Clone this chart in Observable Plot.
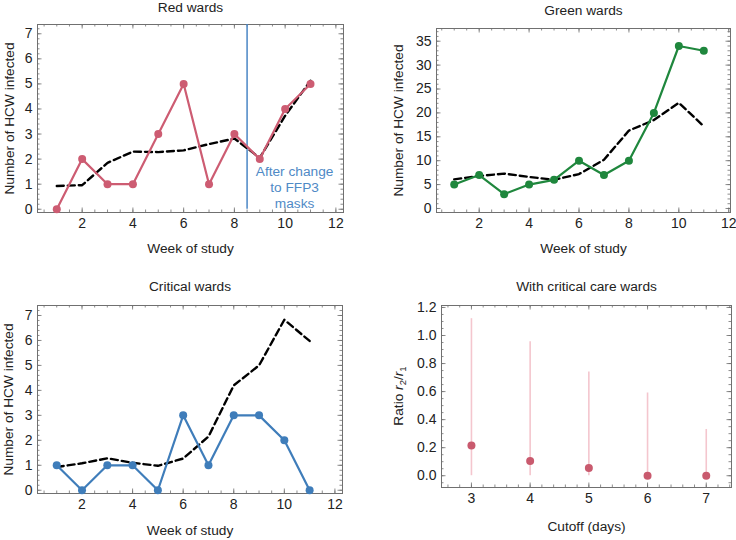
<!DOCTYPE html>
<html><head><meta charset="utf-8">
<script src="https://cdn.jsdelivr.net/npm/d3@7"></script>
<script src="https://cdn.jsdelivr.net/npm/@observablehq/plot@0.6"></script>
<style>
body{margin:0;background:#fff;}
#chart{position:relative;width:736px;height:540px;overflow:hidden;background:#fff;}
#chart svg{position:absolute;}
</style>
</head><body><div id="chart"></div>
<script>
// ---- data ----
const weeks = [1,2,3,4,5,6,7,8,9,10,11];
const redObserved = [0,2,1,1,3,5,1,3,2,4,5];
const redExpected = [0.93,0.96,1.85,2.3,2.28,2.35,2.6,2.82,2.05,3.73,5.13];
const greenObserved = [5,7,3,5,6,10,7,10,20,34,33];
const greenExpected = [6.1,6.8,7.3,6.6,6.0,7.2,10.2,16.3,18.5,22.1,17.2];
const criticalObserved = [1,0,1,1,0,3,1,3,3,2,0];
const criticalExpected = [0.93,1.08,1.28,1.1,0.98,1.27,2.15,4.2,5.0,6.83,5.98];
const maskChangeWeek = 8.5;
const maskNote = "After change\nto FFP3\nmasks";

const cutoffDays = [3,4,5,6,7];
const ratioEstimate = [0.215,0.105,0.055,0,0];
const ratioLower = [0,0,0,0,0];
const ratioUpper = [1.12,0.955,0.74,0.59,0.33];

const weekTicks = [2,4,6,8,10,12];
const countTicksSmall = [0,1,2,3,4,5,6,7];
const countTicksGreen = [0,5,10,15,20,25,30,35];
const cutoffTicks = [3,4,5,6,7];
const ratioTicks = [0,0.2,0.4,0.6,0.8,1.0,1.2];

const titles = ["Red wards","Green wards","Critical wards","With critical care wards"];
const weekLabel = "Week of study";
const countLabel = "Number of HCW infected";
const cutoffLabel = "Cutoff (days)";

// ---- styling ----
const FONT = "'Liberation Sans', Arial, Helvetica, sans-serif";
const FRAME = "#707070";
const RED = "#cd5c72";
const GREEN = "#1f873d";
const BLUE = "#3f7dba";
const PINK = "#f4c6ce";
const TXT = 13.7;   // label font size
const TICK = 14;    // tick label font size
const PW = 368, PH = 270;
const chart = document.getElementById("chart");

function minor(domain, step) {
  const a = Math.ceil(domain[0]/step - 1e-9), b = Math.floor(domain[1]/step + 1e-9);
  return d3.range(a, b+1).map(i => +(i*step).toFixed(6));
}

function framedPanel(o) {
  const [mt, mr, mb, ml] = o.margin;
  const xD = o.xDomain, yD = o.yDomain;
  const ky = (yD[1]-yD[0])/(PH-mt-mb);
  const kx = (xD[1]-xD[0])/(PW-ml-mr);
  const xMinor = minor(xD, o.xStep), yMinor = minor(yD, o.yStep);
  const ticks = [];
  for (const [vals, len] of [[xMinor, 2.5],[o.xMajor, 4.5]]) {
    ticks.push(Plot.ruleX(vals, {x: d=>d, y1: yD[0], y2: yD[0]+len*ky, stroke: FRAME, strokeWidth: 0.8}));
    ticks.push(Plot.ruleX(vals, {x: d=>d, y1: yD[1], y2: yD[1]-len*ky, stroke: FRAME, strokeWidth: 0.8}));
  }
  for (const [vals, len] of [[yMinor, 2.5],[o.yMajor, 4.5]]) {
    ticks.push(Plot.ruleY(vals, {y: d=>d, x1: xD[0], x2: xD[0]+len*kx, stroke: FRAME, strokeWidth: 0.8}));
    ticks.push(Plot.ruleY(vals, {y: d=>d, x1: xD[1], x2: xD[1]-len*kx, stroke: FRAME, strokeWidth: 0.8}));
  }
  const marks = [
    ...ticks,
    Plot.frame({stroke: FRAME, strokeWidth: 1}),
    Plot.axisX(o.xMajor, {tickSize: 0, tickPadding: 6, label: null, fill: "#222", fontSize: TICK}),
    Plot.axisY(o.yMajor, {tickSize: 0, tickPadding: 5, label: null, fill: "#222", fontSize: TICK, tickFormat: o.yFormat}),
    Plot.text([o.title], {text: d=>d, frameAnchor: "top", textAnchor: "middle", lineAnchor: "bottom", dy: o.titleDy, fill: "#222", fontSize: TXT}),
    Plot.text([o.xLabel], {text: d=>d, frameAnchor: "bottom", textAnchor: "middle", lineAnchor: "bottom", dy: o.xLabelDy, fill: "#222", fontSize: TXT}),
    o.yLabel ? Plot.text([o.yLabel], {text: d=>d, frameAnchor: "left", textAnchor: "middle", rotate: -90, lineAnchor: "middle", dx: o.yLabelDx, fill: "#222", fontSize: TXT}) : null,
    ...o.marks
  ];
  const svg = Plot.plot({
    width: PW, height: PH,
    marginTop: mt, marginRight: mr, marginBottom: mb, marginLeft: ml,
    x: {domain: xD}, y: {domain: yD},
    style: {fontFamily: FONT, fontSize: TXT + "px", color: "#222", background: "transparent", overflow: "visible"},
    marks
  });
  svg.style.left = o.left + "px";
  svg.style.top = o.top + "px";
  chart.append(svg);
  return svg;
}

function weekRows(obs, exp) {
  return weeks.map((w, i) => ({week: w, observed: obs[i], expected: exp[i]}));
}
function weekMarks(rows, color) {
  return [
    Plot.line(rows, {x: "week", y: "expected", stroke: "#000", strokeWidth: 2.4, strokeDasharray: "7,4"}),
    Plot.line(rows, {x: "week", y: "observed", stroke: color, strokeWidth: 2.2}),
    Plot.dot(rows, {x: "week", y: "observed", fill: color, r: 4})
  ];
}

// Red wards
const redRows = weekRows(redObserved, redExpected);
const redY = [-0.13, 7.37];
framedPanel({
  left: 0, top: 0, margin: [24, 25, 58, 37],
  xDomain: [0.24, 12.3], yDomain: redY, xStep: 0.5, yStep: 0.2,
  xMajor: weekTicks, yMajor: countTicksSmall,
  title: titles[0], titleDy: -13, xLabel: weekLabel, xLabelDy: 40.5,
  yLabel: countLabel, yLabelDx: -28,
  marks: [
    Plot.ruleX([maskChangeWeek], {x: d=>d, y1: 0, y2: redY[1], stroke: "#4a86c5", strokeWidth: 1.5}),
    ...weekMarks(redRows, RED),
    Plot.text([maskNote], {x: () => maskChangeWeek, text: d=>d, frameAnchor: "bottom", textAnchor: "middle", lineAnchor: "bottom", dx: 47.5, dy: -5, lineHeight: 1.15, fill: "#4f8ac6", fontSize: TXT})
  ]
});

// Green wards
framedPanel({
  left: 368, top: 0, margin: [28, 6, 58, 68],
  xDomain: [0.29, 12.07], yDomain: [-0.84, 37.66], xStep: 0.5, yStep: 1,
  xMajor: weekTicks, yMajor: countTicksGreen,
  title: titles[1], titleDy: -14, xLabel: weekLabel, xLabelDy: 40.5,
  yLabel: countLabel, yLabelDx: -38,
  marks: weekMarks(weekRows(greenObserved, greenExpected), GREEN)
});

// Critical wards
framedPanel({
  left: 0, top: 270, margin: [35, 26, 47, 37],
  xDomain: [0.24, 12.3], yDomain: [-0.13, 7.4], xStep: 0.5, yStep: 0.2,
  xMajor: weekTicks, yMajor: countTicksSmall,
  title: titles[2], titleDy: -14.5, xLabel: weekLabel, xLabelDy: 41,
  yLabel: countLabel, yLabelDx: -29,
  marks: weekMarks(weekRows(criticalObserved, criticalExpected), BLUE)
});

// Ratio panel
const ratioRows = cutoffDays.map((c, i) => ({cutoff: c, est: ratioEstimate[i], lo: ratioLower[i], hi: ratioUpper[i]}));
const ratioSvg = framedPanel({
  left: 368, top: 270, margin: [35, 5, 53, 73],
  xDomain: [2.49, 7.43], yDomain: [-0.084, 1.214], xStep: 0.2, yStep: 0.05,
  xMajor: cutoffTicks, yMajor: ratioTicks, yFormat: d3.format(".1f"),
  title: titles[3], titleDy: -14.5, xLabel: cutoffLabel, xLabelDy: 43,
  yLabel: null,
  marks: [
    Plot.ruleX(ratioRows, {x: "cutoff", y1: "lo", y2: "hi", stroke: PINK, strokeWidth: 1.6}),
    Plot.dot(ratioRows, {x: "cutoff", y: "est", fill: "#c95a6e", r: 4})
  ]
});
// y label with italic symbols and subscripts
{
  const t = d3.select(ratioSvg).append("text")
    .attr("transform", `translate(${73 - 42},${35 + (270-35-53)/2}) rotate(-90)`)
    .attr("text-anchor", "middle").attr("dy", "0.32em")
    .attr("fill", "#222").attr("font-family", FONT).attr("font-size", TXT);
  t.append("tspan").text("Ratio ");
  t.append("tspan").attr("font-style", "italic").text("r");
  t.append("tspan").attr("font-size", 9.5).attr("dy", 3).text("2");
  t.append("tspan").attr("dy", -3).text("/");
  t.append("tspan").attr("font-style", "italic").text("r");
  t.append("tspan").attr("font-size", 9.5).attr("dy", 3).text("1");
}
</script>
</body></html>
